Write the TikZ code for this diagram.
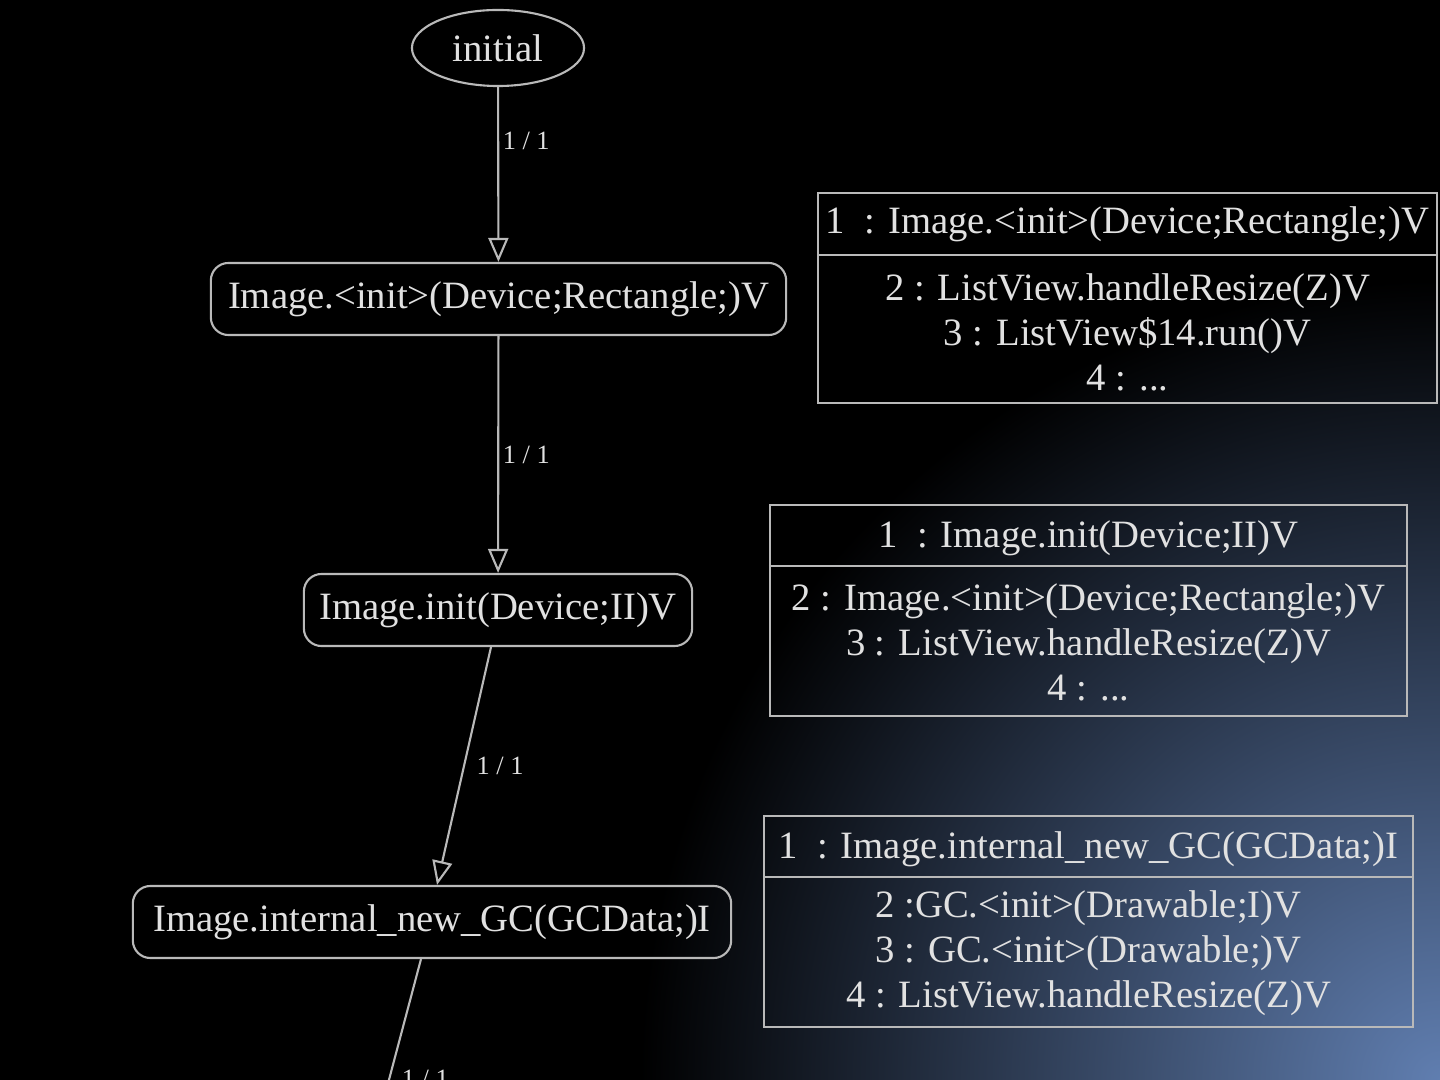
\documentclass[tikz,border=0pt]{standalone}
\usepackage{fontspec}
\setmainfont{Liberation Serif}
\usetikzlibrary{arrows.meta}
\usetikzlibrary{shapes.geometric}
\definecolor{linegray}{RGB}{185,185,185}
\definecolor{textgray}{RGB}{225,225,225}
\definecolor{glowblue}{RGB}{96,126,176}
\pgfdeclareradialshading{cornerglow}{\pgfpoint{0bp}{0bp}}{color(0bp)=(glowblue); color(25bp)=(black); color(50bp)=(black)}
\tikzset{>={Triangle[open,width=2mm,length=2.4mm]}}
\tikzset{
  state/.style={draw=linegray, line width=.6pt, rounded corners=5pt, minimum height=.72cm,
    text=textgray, font=\fontsize{11}{12.8}\selectfont},
  tablebox/.style={draw=linegray, line width=.6pt, inner sep=0pt},
  tabletext/.style={text=textgray, align=center, font=\fontsize{11}{12.8}\selectfont},
  trans/.style={->, draw=linegray, line width=.6pt},
  lbl/.style={anchor=west, text=textgray, inner sep=1pt, font=\fontsize{7.5}{9}\selectfont}
}

\begin{document}
\begin{tikzpicture}[x=.01cm,y=-.01cm]
\useasboundingbox (0,0) rectangle (1440,1080);
\begin{scope}
\clip (0,0) rectangle (1440,1080);
\fill[black] (0,0) rectangle (1440,1080);
\shade[shading=cornerglow] (1440,1080) circle[radius=800];

% states
\node[ellipse, draw=linegray, line width=.6pt, minimum width=1.72cm, minimum height=.76cm,
  text=textgray, font=\fontsize{11}{12.8}\selectfont] (init) at (498,48) {initial};
\node[state, minimum width=5.75cm] (ctor) at (498.5,299) {Image.<init>(Device;Rectangle;)V};
\node[state, minimum width=3.88cm] (initfn) at (498,610) {Image.init(Device;II)V};
\node[state, minimum width=5.98cm] (newgc) at (432,922) {Image.internal\_new\_GC(GCData;)I};
\coordinate (next) at (377,1125);

% transitions
\draw[trans] (init) -- node[lbl, pos=.31] {1 / 1} (ctor);
\draw[trans] (ctor) -- node[lbl, pos=.5] {1 / 1} (initfn);
\draw[trans] ([xshift=-.07cm]initfn.south) -- node[lbl, pos=.5, xshift=.08cm] {1 / 1} ([xshift=.05cm]newgc.north);
\draw[trans] ([xshift=-.11cm]newgc.south) -- node[lbl, pos=.72, xshift=.08cm] {1 / 1} (next);

% call stacks
\node[tablebox, minimum width=6.19cm, minimum height=2.10cm] (stackA) at (1127.5,298) {};
\draw[linegray, line width=.6pt] (stackA.west |- 0,255) -- (stackA.east |- 0,255);
\node[tabletext] (stackAhead) at (1127.5,224) {1\ \ : Image.<init>(Device;Rectangle;)V};
\node[tabletext] (stackAbody) at (1127.5,332) {2 : ListView.handleResize(Z)V\\3 : ListView\$14.run()V\\4 : ...};

\node[tablebox, minimum width=6.37cm, minimum height=2.11cm] (stackB) at (1088.5,610.5) {};
\draw[linegray, line width=.6pt] (stackB.west |- 0,566) -- (stackB.east |- 0,566);
\node[tabletext] (stackBhead) at (1088.5,538) {1\ \ : Image.init(Device;II)V};
\node[tabletext] (stackBbody) at (1088.5,642) {2 : Image.<init>(Device;Rectangle;)V\\3 : ListView.handleResize(Z)V\\4 : ...};

\node[tablebox, minimum width=6.49cm, minimum height=2.11cm] (stackC) at (1088.5,921.5) {};
\draw[linegray, line width=.6pt] (stackC.west |- 0,877) -- (stackC.east |- 0,877);
\node[tabletext] (stackChead) at (1088.5,849) {1\ \ : Image.internal\_new\_GC(GCData;)I};
\node[tabletext] (stackCbody) at (1088.5,953) {2 :GC.<init>(Drawable;I)V\\3 : GC.<init>(Drawable;)V\\4 : ListView.handleResize(Z)V};
\end{scope}
\end{tikzpicture}
\end{document}
